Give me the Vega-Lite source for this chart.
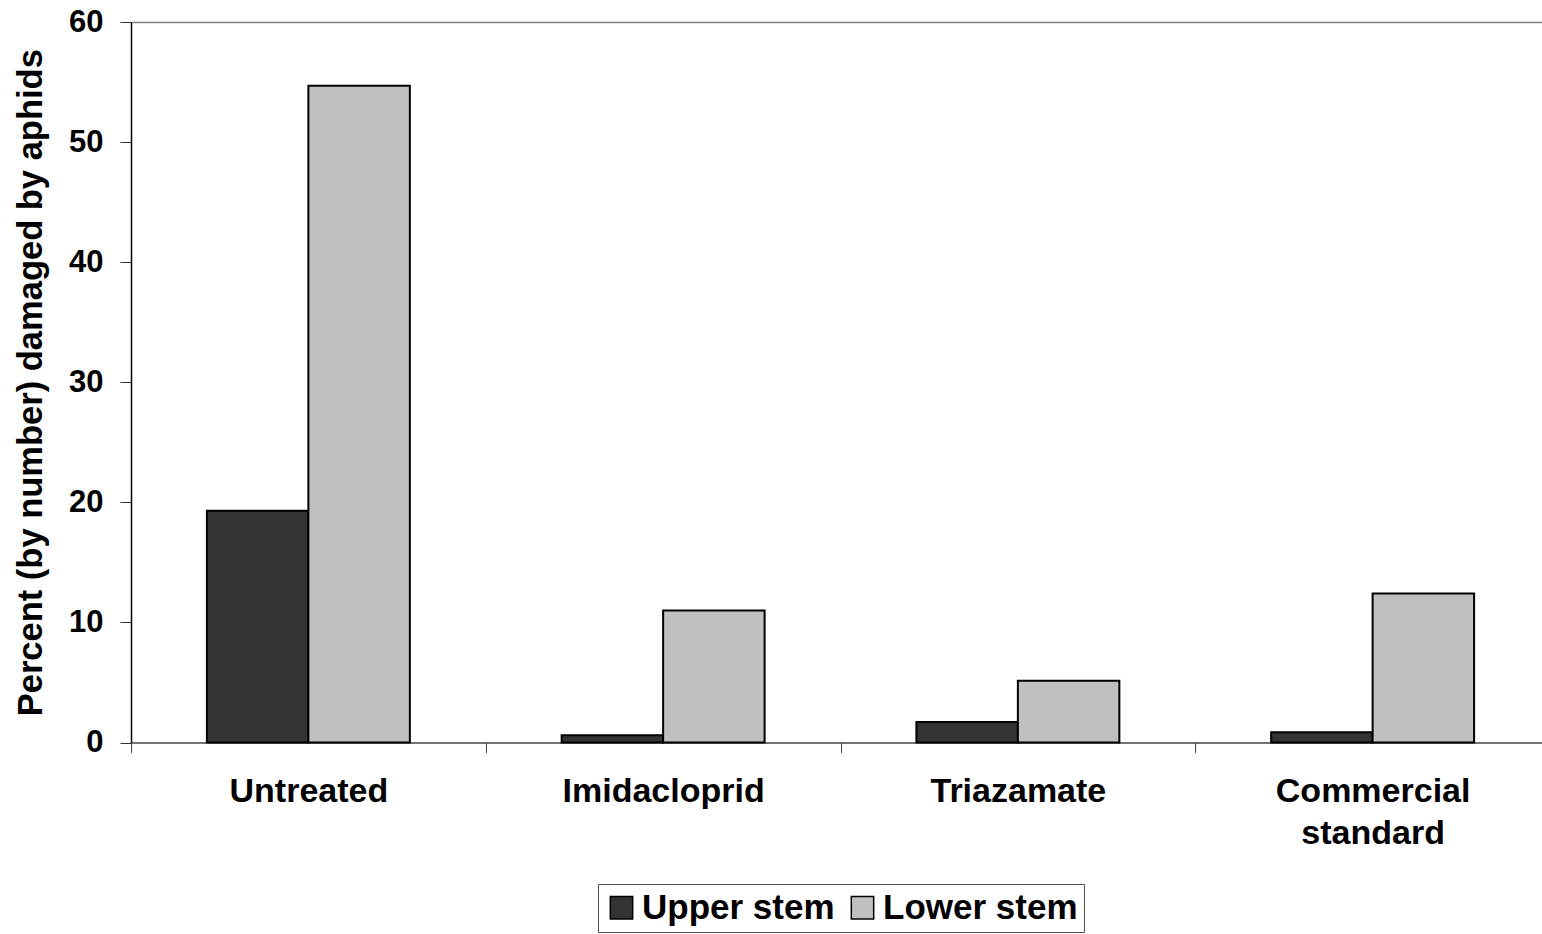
{
  "$schema": "https://vega.github.io/schema/vega-lite/v6.json",
  "width": 1411,
  "height": 720.5,
  "autosize": {"type": "none"},
  "padding": {"left": 131, "top": 22, "right": 0, "bottom": 191},
  "background": "white",
  "config": {
    "font": "Liberation Sans",
    "view": {"stroke": null},
    "axis": {"labelColor": "black", "titleColor": "black"}
  },
  "data": {
    "values": [
      {"treatment": "Untreated", "part": "Upper stem", "pct": 19.3},
      {"treatment": "Untreated", "part": "Lower stem", "pct": 54.7},
      {"treatment": "Imidacloprid", "part": "Upper stem", "pct": 0.6},
      {"treatment": "Imidacloprid", "part": "Lower stem", "pct": 11.0},
      {"treatment": "Triazamate", "part": "Upper stem", "pct": 1.7},
      {"treatment": "Triazamate", "part": "Lower stem", "pct": 5.15},
      {"treatment": "Commercial standard", "part": "Upper stem", "pct": 0.85},
      {"treatment": "Commercial standard", "part": "Lower stem", "pct": 12.4}
    ]
  },
  "mark": {"type": "bar", "stroke": "black", "strokeWidth": 2},
  "encoding": {
    "x": {
      "field": "treatment",
      "type": "nominal",
      "sort": ["Untreated", "Imidacloprid", "Triazamate", "Commercial standard"],
      "scale": {"paddingInner": 0, "paddingOuter": 0, "range": [0, 1419]},
      "axis": {
        "title": null,
        "labelAngle": 0,
        "labelLimit": 0,
        "tickBand": "extent",
        "tickSize": 10,
        "tickColor": "#444",
        "domainColor": "#444",
        "domainWidth": 1.5,
        "labelFontSize": 34,
        "labelFontWeight": "bold",
        "labelPadding": 22,
        "labelLineHeight": 42,
        "labelExpr": "datum.label == 'Commercial standard' ? ['Commercial', 'standard'] : datum.label"
      }
    },
    "xOffset": {
      "field": "part",
      "type": "nominal",
      "sort": ["Upper stem", "Lower stem"],
      "scale": {"paddingOuter": 0.748, "paddingInner": 0}
    },
    "y": {
      "field": "pct",
      "type": "quantitative",
      "scale": {"domain": [0, 60], "nice": false},
      "axis": {
        "title": "Percent (by number) damaged by aphids",
        "titleFontSize": 34.5,
        "titleFontWeight": "bold",
        "titlePadding": 20,
        "titleLimit": 0,
        "values": [0, 10, 20, 30, 40, 50, 60],
        "tickSize": 11,
        "tickColor": "#333",
        "domainColor": "black",
        "domainWidth": 1.5,
        "labelFontSize": 31,
        "labelFontWeight": "bold",
        "labelPadding": 17,
        "grid": true,
        "gridColor": {"condition": {"test": "datum.value === 60", "value": "#808080"}, "value": "transparent"},
        "gridWidth": 1.5
      }
    },
    "color": {
      "field": "part",
      "type": "nominal",
      "sort": ["Upper stem", "Lower stem"],
      "scale": {"domain": ["Upper stem", "Lower stem"], "range": ["#333333", "#c0c0c0"]},
      "legend": {
        "title": null,
        "orient": "none",
        "legendX": 467,
        "legendY": 862,
        "direction": "horizontal",
        "strokeColor": "#555",
        "fillColor": "white",
        "padding": 6,
        "symbolType": "square",
        "symbolSize": 500,
        "symbolStrokeColor": "black",
        "symbolStrokeWidth": 1.5,
        "symbolOpacity": 1,
        "labelFontSize": 35,
        "labelFontWeight": "bold",
        "labelColor": "black",
        "labelLimit": 0,
        "labelOffset": 3,
        "columnPadding": 10
      }
    }
  }
}
